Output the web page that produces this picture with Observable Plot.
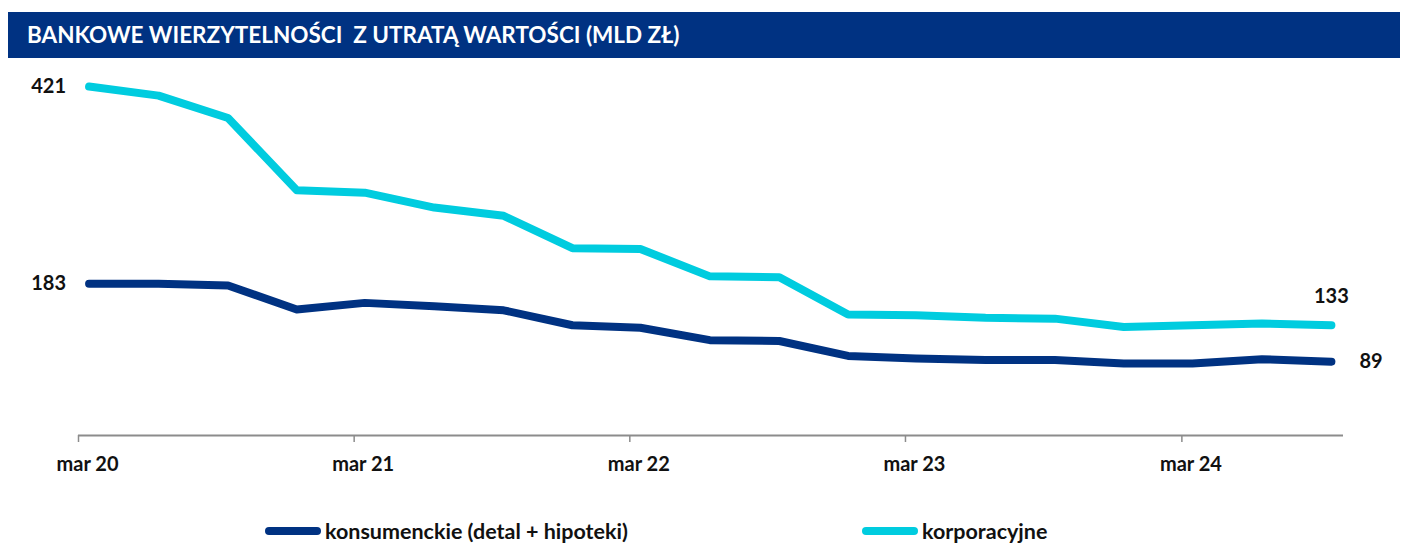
<!DOCTYPE html>
<html><head><meta charset="utf-8">
<script src="https://cdn.jsdelivr.net/npm/d3@7"></script>
<script src="https://cdn.jsdelivr.net/npm/@observablehq/plot@0.6"></script>
<style>
body{margin:0;background:#fff;font-family:Lato,"Noto Sans",sans-serif;}
#wrap{position:relative;width:1410px;height:544px;overflow:hidden;}
#title{position:absolute;left:8px;top:12px;width:1392px;height:46px;background:#003282;color:#fff;font-weight:bold;font-size:22.5px;line-height:46px;padding-left:19px;box-sizing:border-box;white-space:pre;}
#chart{position:absolute;left:0;top:58px;}
.leg{position:absolute;top:518px;height:26px;display:flex;align-items:center;font-size:21.5px;font-weight:bold;color:#111;white-space:nowrap;}
.sw{display:inline-block;width:56px;height:8px;border-radius:4px;margin-right:4px;}
</style></head>
<body><div id="wrap"><div id="title"></div><div id="chart"></div></div>
<script>
const titleText = "BANKOWE WIERZYTELNOŚCI  Z UTRATĄ WARTOŚCI (MLD ZŁ)";
const quarters = ["2020-03","2020-06","2020-09","2020-12","2021-03","2021-06","2021-09","2021-12","2022-03","2022-06","2022-09","2022-12","2023-03","2023-06","2023-09","2023-12","2024-03","2024-06","2024-09"];
const consumerName = "konsumenckie (detal + hipoteki)";
const consumer = [183,183,181,152,160,156,151,133,130,115,114,96,93,91,91,87,87,92,89];
const corporateName = "korporacyjne";
const corporate = [421,410,383,296,293,275,265,226,225,192,191,146,145,142,141,131,133,135,133];
const tickYears = ["2020","2021","2022","2023","2024"];
const tickLabels = ["mar 20","mar 21","mar 22","mar 23","mar 24"];
const seriesNames = [consumerName, corporateName];
const seriesColors = ["#003282","#00CCDF"];

document.getElementById("title").textContent = titleText;

const parseQ = q => { const [y,m] = q.split("-").map(Number); return new Date(Date.UTC(y, m-1, 15)); };
const rows = [];
[consumer, corporate].forEach((vals, s) => vals.forEach((v,i) => rows.push({date: parseQ(quarters[i]), value: v, series: seriesNames[s]})));
const tickDates = tickYears.map(y => new Date(Date.UTC(+y, 2, 1)));
const first = rows.filter(r => r.date.getTime() === parseQ(quarters[0]).getTime());
const lastDate = parseQ(quarters[quarters.length-1]).getTime();
const lastCons = rows.filter(r => r.date.getTime() === lastDate && r.series === consumerName);
const lastCorp = rows.filter(r => r.date.getTime() === lastDate && r.series === corporateName);

const chart = Plot.plot({
  width: 1410, height: 430,
  marginLeft: 78, marginRight: 67, marginTop: 4, marginBottom: 53,
  style: {fontFamily: "Lato, 'Noto Sans', sans-serif", fontSize: "20px", color: "#111", background: "transparent"},
  x: {type: "utc", domain: [new Date(Date.UTC(2020,2,1)), new Date(Date.UTC(2024,9,1))]},
  y: {domain: [0, 450], axis: null},
  color: {domain: seriesNames, range: seriesColors},
  marks: [
    Plot.ruleY([0], {stroke: "#8c8c8c", strokeWidth: 2}),
    Plot.axisX({ticks: tickDates, tickSize: 7, tickFormat: () => "", stroke: "#8c8c8c", strokeWidth: 1.5, label: null}),
    Plot.axisX({ticks: tickDates, tickSize: 0, tickPadding: 21, dx: 9, tickFormat: (d, i) => tickLabels[i], fontWeight: "bold", fill: "#111", label: null}),
    Plot.line(rows, {x: "date", y: "value", z: "series", stroke: "series", strokeWidth: 8, strokeLinecap: "round", strokeLinejoin: "round"}),
    Plot.text(first, {x: "date", y: "value", text: d => String(d.value), textAnchor: "end", dx: -23, fontWeight: "bold", fill: "#111"}),
    Plot.text(lastCorp, {x: "date", y: "value", text: d => String(d.value), dy: -29, fontWeight: "bold", fill: "#111"}),
    Plot.text(lastCons, {x: "date", y: "value", text: d => String(d.value), textAnchor: "start", dx: 28, fontWeight: "bold", fill: "#111"})
  ]
});
document.getElementById("chart").appendChild(chart);

const legLefts = [265, 862];
seriesNames.forEach((n, i) => {
  const d = document.createElement("div");
  d.className = "leg";
  d.style.left = legLefts[i] + "px";
  const sw = document.createElement("span");
  sw.className = "sw"; sw.style.background = seriesColors[i];
  d.appendChild(sw);
  d.appendChild(document.createTextNode(n));
  document.getElementById("wrap").appendChild(d);
});
</script></body></html>
